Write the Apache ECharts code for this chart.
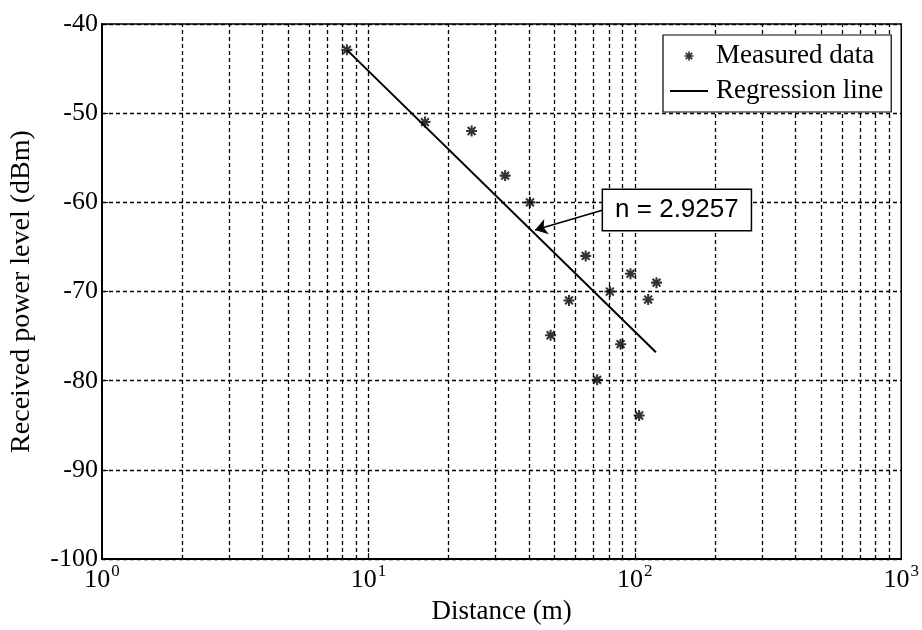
<!DOCTYPE html>
<html>
<head>
<meta charset="utf-8">
<script src="https://cdn.jsdelivr.net/npm/echarts@6/dist/echarts.min.js"></script>
<style>
html,body{margin:0;padding:0;background:#fff;}
#chart{width:922px;height:630px;}
</style>
</head>
<body>
<div id="chart"></div>
<script>
// ---- data ----
const measuredDistance = [8.3, 16.3, 24.4, 32.6, 40.4, 48.3, 56.6, 65.4, 72.2, 80.6, 88.4, 96.3, 103.8, 112.2, 120.6];
const measuredPower    = [-42.9, -51.0, -52.0, -57.0, -60.0, -74.9, -71.0, -66.0, -79.9, -70.0, -75.9, -68.0, -83.9, -70.9, -69.0];
const regressionDistance = [8.3, 120];
const regressionPower    = [-42.9, -76.8];
const xGridValues = [2,3,4,5,6,7,8,9,10,20,30,40,50,60,70,80,90,100,200,300,400,500,600,700,800,900];
const yTickValues = [-100, -90, -80, -70, -60, -50, -40];
const annotationText = 'n = 2.9257';
const annotationFrom = [76, -60.85];
const annotationTo = [42.2, -63.1];
const seriesNames = ['Measured data', 'Regression line'];

// asterisk marker (+ and x combined)
const asterisk = 'path://M-7,-1.3L7,-1.3L7,1.3L-7,1.3Z M-1.3,-7L1.3,-7L1.3,7L-1.3,7Z ' +
  'M-4.08,-5.92L5.92,4.08L4.08,5.92L-5.92,-4.08Z ' +
  'M-5.92,4.08L4.08,-5.92L5.92,-4.08L-4.08,5.92Z';
const lineIcon = 'path://M0,0L38,0L38,2L0,2Z';

const serif = '"Liberation Serif","Times New Roman",serif';
const sans = '"Liberation Sans",Arial,sans-serif';

const chart = echarts.init(document.getElementById('chart'), null, {renderer: 'canvas'});

const option = {
  animation: false,
  backgroundColor: '#fff',
  grid: {
    left: 101, right: 20, top: 24, bottom: 66,
    show: true, borderColor: '#000', borderWidth: 1.5,
    containLabel: false
  },
  legend: {
    data: [{name: seriesNames[0]}, {name: seriesNames[1], icon: lineIcon}],
    left: 663, top: 35,
    z: 20,
    orient: 'vertical',
    selectedMode: false,
    backgroundColor: '#fff',
    borderColor: '#000',
    borderWidth: 1.2,
    borderRadius: 0,
    padding: [6, 8, 6, 7],
    itemGap: 5,
    itemWidth: 38,
    itemHeight: 9,
    textStyle: {fontFamily: serif, fontSize: 27, lineHeight: 30, color: '#000', padding: [0, 0, 0, 3]}
  },
  xAxis: {
    type: 'log',
    logBase: 10,
    min: 1, max: 1000,
    name: 'Distance (m)',
    nameLocation: 'middle',
    nameGap: 33,
    nameTextStyle: {fontFamily: serif, fontSize: 27, color: '#000'},
    axisLine: {show: true, lineStyle: {color: '#000', width: 2}},
    axisTick: {show: true, inside: true, length: 6, lineStyle: {color: '#000'}},
    splitLine: {show: false},
    axisLabel: {
      margin: 8,
      color: '#000',
      formatter: function (v) {
        const e = Math.round(Math.log10(v));
        return '{b|10}{s|' + e + '}';
      },
      rich: {
        b: {fontFamily: serif, fontSize: 26, lineHeight: 26, verticalAlign: 'bottom', color: '#000'},
        s: {fontFamily: serif, fontSize: 17, lineHeight: 17, verticalAlign: 'bottom', padding: [0, 0, 13, 1], color: '#000'}
      }
    }
  },
  yAxis: {
    type: 'value',
    min: yTickValues[0], max: yTickValues[yTickValues.length - 1], interval: 10,
    name: 'Received power level (dBm)',
    nameLocation: 'middle',
    nameGap: 66,
    nameTextStyle: {fontFamily: serif, fontSize: 28, color: '#000'},
    axisLine: {show: true, lineStyle: {color: '#000', width: 2}},
    axisTick: {show: true, inside: true, length: 6, lineStyle: {color: '#000'}},
    axisLabel: {margin: 4, fontFamily: serif, fontSize: 26, color: '#000'},
    splitLine: {show: true, lineStyle: {color: '#000', width: 1.3, type: [4, 3]}}
  },
  series: [
    {
      name: 'grid',
      type: 'line',
      data: [],
      z: 1,
      silent: true,
      markLine: {
        silent: true,
        symbol: ['none', 'none'],
        label: {show: false},
        lineStyle: {color: '#000', width: 1.3, type: [4, 3]},
        data: xGridValues.map(v => ({xAxis: v}))
      }
    },
    {
      name: seriesNames[0],
      type: 'scatter',
      z: 4,
      symbol: asterisk,
      symbolSize: 11,
      symbolKeepAspect: true,
      itemStyle: {color: '#000'},
      data: measuredDistance.map((d, i) => [d, measuredPower[i]])
    },
    {
      name: seriesNames[1],
      type: 'line',
      z: 3,
      symbol: 'none',
      lineStyle: {color: '#000', width: 2},
      itemStyle: {color: '#000'},
      data: regressionDistance.map((d, i) => [d, regressionPower[i]]),
      markLine: {
        silent: true,
        symbol: ['none', 'arrow'],
        symbolSize: 12,
        label: {show: false},
        itemStyle: {color: '#000'},
        lineStyle: {color: '#000', width: 1.5, type: 'solid'},
        data: [[{coord: annotationFrom}, {coord: annotationTo}]]
      },
      markPoint: {
        silent: true,
        symbol: 'circle',
        symbolSize: 0,
        data: [{
          coord: annotationFrom,
          label: {
            show: true,
            position: 'right',
            distance: 0,
            formatter: annotationText,
            fontFamily: sans,
            fontSize: 26,
            lineHeight: 28,
            color: '#000',
            backgroundColor: '#fff',
            borderColor: '#000',
            borderWidth: 1.5,
            padding: [6, 12, 6, 12]
          }
        }]
      }
    }
  ]
};
chart.setOption(option);
</script>
</body>
</html>
